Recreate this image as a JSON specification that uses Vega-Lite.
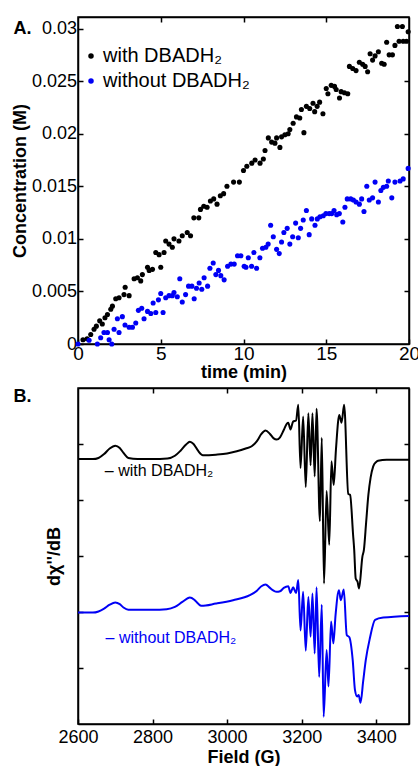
{
  "$schema": "https://vega.github.io/schema/vega-lite/v6.json",
  "padding": {"left": 10, "top": 15, "right": 0, "bottom": 0},
  "spacing": 44,
  "bounds": "flush",
  "background": "white",
  "resolve": {"scale": {"color": "independent"}},
  "config": {
    "font": "Liberation Sans",
    "view": {"stroke": "black", "strokeWidth": 1.5},
    "axis": {
      "grid": false, "domainColor": "black", "domainWidth": 1.5,
      "tickColor": "black", "tickWidth": 1.5, "tickSize": -5,
      "labelFont": "Liberation Sans", "labelColor": "black", "labelFontSize": 18,
      "labelFlush": false, "labelOverlap": false,
      "titleFont": "Liberation Sans", "titleColor": "black", "titleFontSize": 18, "titleFontWeight": "bold"
    }
  },
  "vconcat": [
    {
      "width": 331, "height": 327,
      "layer": [
        {
          "data": {"values": [
            {"t":0.3,"c":0.0004,"s":"with DBADH₂"},{"t":0.55,"c":0.0005,"s":"with DBADH₂"},{"t":0.77,"c":0.0009,"s":"with DBADH₂"},{"t":0.97,"c":0.0014,"s":"with DBADH₂"},{"t":1.11,"c":0.0017,"s":"with DBADH₂"},{"t":1.31,"c":0.0022,"s":"with DBADH₂"},{"t":1.47,"c":0.0019,"s":"with DBADH₂"},{"t":1.63,"c":0.0025,"s":"with DBADH₂"},{"t":1.78,"c":0.0028,"s":"with DBADH₂"},{"t":1.98,"c":0.0033,"s":"with DBADH₂"},
            {"t":2.08,"c":0.0036,"s":"with DBADH₂"},{"t":2.28,"c":0.0043,"s":"with DBADH₂"},{"t":2.48,"c":0.0044,"s":"with DBADH₂"},{"t":2.78,"c":0.0047,"s":"with DBADH₂"},{"t":2.85,"c":0.0054,"s":"with DBADH₂"},{"t":3.09,"c":0.0046,"s":"with DBADH₂"},{"t":3.39,"c":0.0062,"s":"with DBADH₂"},{"t":3.59,"c":0.0063,"s":"with DBADH₂"},{"t":3.79,"c":0.006,"s":"with DBADH₂"},{"t":3.89,"c":0.0066,"s":"with DBADH₂"},
            {"t":4.2,"c":0.0073,"s":"with DBADH₂"},{"t":4.3,"c":0.007,"s":"with DBADH₂"},{"t":4.5,"c":0.0071,"s":"with DBADH₂"},{"t":4.7,"c":0.0087,"s":"with DBADH₂"},{"t":4.9,"c":0.0085,"s":"with DBADH₂"},{"t":5.0,"c":0.0073,"s":"with DBADH₂"},{"t":5.2,"c":0.0087,"s":"with DBADH₂"},{"t":5.3,"c":0.0098,"s":"with DBADH₂"},{"t":5.5,"c":0.0095,"s":"with DBADH₂"},{"t":5.7,"c":0.0092,"s":"with DBADH₂"},
            {"t":5.8,"c":0.01,"s":"with DBADH₂"},{"t":6.1,"c":0.0098,"s":"with DBADH₂"},{"t":6.3,"c":0.0103,"s":"with DBADH₂"},{"t":6.6,"c":0.0106,"s":"with DBADH₂"},{"t":6.8,"c":0.0103,"s":"with DBADH₂"},{"t":7.0,"c":0.012,"s":"with DBADH₂"},{"t":7.3,"c":0.012,"s":"with DBADH₂"},{"t":7.4,"c":0.0128,"s":"with DBADH₂"},{"t":7.6,"c":0.0131,"s":"with DBADH₂"},{"t":7.8,"c":0.013,"s":"with DBADH₂"},
            {"t":8.0,"c":0.0136,"s":"with DBADH₂"},{"t":8.2,"c":0.0138,"s":"with DBADH₂"},{"t":8.4,"c":0.0133,"s":"with DBADH₂"},{"t":8.6,"c":0.0141,"s":"with DBADH₂"},{"t":8.8,"c":0.0143,"s":"with DBADH₂"},{"t":9.0,"c":0.015,"s":"with DBADH₂"},{"t":9.4,"c":0.0154,"s":"with DBADH₂"},{"t":9.75,"c":0.0154,"s":"with DBADH₂"},{"t":10.0,"c":0.0165,"s":"with DBADH₂"},{"t":10.2,"c":0.0169,"s":"with DBADH₂"},
            {"t":10.5,"c":0.0172,"s":"with DBADH₂"},{"t":10.7,"c":0.0175,"s":"with DBADH₂"},{"t":11.0,"c":0.0172,"s":"with DBADH₂"},{"t":11.2,"c":0.0176,"s":"with DBADH₂"},{"t":11.3,"c":0.0184,"s":"with DBADH₂"},{"t":11.5,"c":0.0196,"s":"with DBADH₂"},{"t":11.7,"c":0.0192,"s":"with DBADH₂"},{"t":11.9,"c":0.0191,"s":"with DBADH₂"},{"t":12.0,"c":0.0196,"s":"with DBADH₂"},{"t":12.2,"c":0.0187,"s":"with DBADH₂"},
            {"t":12.3,"c":0.0197,"s":"with DBADH₂"},{"t":12.5,"c":0.0199,"s":"with DBADH₂"},{"t":12.7,"c":0.02,"s":"with DBADH₂"},{"t":12.8,"c":0.0204,"s":"with DBADH₂"},{"t":13.0,"c":0.021,"s":"with DBADH₂"},{"t":13.2,"c":0.0216,"s":"with DBADH₂"},{"t":13.4,"c":0.0215,"s":"with DBADH₂"},{"t":13.5,"c":0.0223,"s":"with DBADH₂"},{"t":13.65,"c":0.0201,"s":"with DBADH₂"},{"t":13.8,"c":0.0226,"s":"with DBADH₂"},
            {"t":14.0,"c":0.0224,"s":"with DBADH₂"},{"t":14.2,"c":0.0229,"s":"with DBADH₂"},{"t":14.3,"c":0.0221,"s":"with DBADH₂"},{"t":14.45,"c":0.0226,"s":"with DBADH₂"},{"t":14.6,"c":0.023,"s":"with DBADH₂"},{"t":14.8,"c":0.0219,"s":"with DBADH₂"},{"t":15.0,"c":0.0243,"s":"with DBADH₂"},{"t":15.1,"c":0.0238,"s":"with DBADH₂"},{"t":15.3,"c":0.0246,"s":"with DBADH₂"},{"t":15.5,"c":0.0245,"s":"with DBADH₂"},
            {"t":15.6,"c":0.0242,"s":"with DBADH₂"},{"t":15.8,"c":0.0234,"s":"with DBADH₂"},{"t":15.9,"c":0.024,"s":"with DBADH₂"},{"t":16.1,"c":0.0239,"s":"with DBADH₂"},{"t":16.3,"c":0.0238,"s":"with DBADH₂"},{"t":16.4,"c":0.0264,"s":"with DBADH₂"},{"t":16.6,"c":0.0262,"s":"with DBADH₂"},{"t":16.8,"c":0.026,"s":"with DBADH₂"},{"t":17.0,"c":0.0268,"s":"with DBADH₂"},{"t":17.2,"c":0.0266,"s":"with DBADH₂"},
            {"t":17.35,"c":0.0264,"s":"with DBADH₂"},{"t":17.5,"c":0.0259,"s":"with DBADH₂"},{"t":17.65,"c":0.0276,"s":"with DBADH₂"},{"t":17.8,"c":0.027,"s":"with DBADH₂"},{"t":17.95,"c":0.0274,"s":"with DBADH₂"},{"t":18.15,"c":0.0278,"s":"with DBADH₂"},{"t":18.35,"c":0.0267,"s":"with DBADH₂"},{"t":18.5,"c":0.0266,"s":"with DBADH₂"},{"t":18.65,"c":0.0287,"s":"with DBADH₂"},{"t":18.8,"c":0.0275,"s":"with DBADH₂"},
            {"t":19.0,"c":0.0275,"s":"with DBADH₂"},{"t":19.15,"c":0.0284,"s":"with DBADH₂"},{"t":19.3,"c":0.0302,"s":"with DBADH₂"},{"t":19.4,"c":0.0288,"s":"with DBADH₂"},{"t":19.6,"c":0.0302,"s":"with DBADH₂"},{"t":19.65,"c":0.0288,"s":"with DBADH₂"},{"t":19.85,"c":0.0288,"s":"with DBADH₂"},{"t":19.95,"c":0.0297,"s":"with DBADH₂"},
            {"t":0.0,"c":0.0,"s":"without DBADH₂"},{"t":0.67,"c":0.00035,"s":"without DBADH₂"},{"t":1.17,"c":0.0,"s":"without DBADH₂"},{"t":1.37,"c":0.0006,"s":"without DBADH₂"},{"t":1.57,"c":0.0011,"s":"without DBADH₂"},{"t":1.78,"c":0.0011,"s":"without DBADH₂"},{"t":1.88,"c":0.0004,"s":"without DBADH₂"},{"t":2.04,"c":0.0,"s":"without DBADH₂"},{"t":2.18,"c":0.0014,"s":"without DBADH₂"},{"t":2.38,"c":0.0024,"s":"without DBADH₂"},
            {"t":2.48,"c":0.0011,"s":"without DBADH₂"},{"t":2.68,"c":0.0026,"s":"without DBADH₂"},{"t":2.84,"c":0.0018,"s":"without DBADH₂"},{"t":3.09,"c":0.0016,"s":"without DBADH₂"},{"t":3.29,"c":0.0016,"s":"without DBADH₂"},{"t":3.49,"c":0.002,"s":"without DBADH₂"},{"t":3.65,"c":0.0032,"s":"without DBADH₂"},{"t":3.85,"c":0.0034,"s":"without DBADH₂"},{"t":3.99,"c":0.0024,"s":"without DBADH₂"},{"t":4.2,"c":0.0031,"s":"without DBADH₂"},
            {"t":4.4,"c":0.0029,"s":"without DBADH₂"},{"t":4.54,"c":0.0039,"s":"without DBADH₂"},{"t":4.7,"c":0.003,"s":"without DBADH₂"},{"t":4.86,"c":0.0042,"s":"without DBADH₂"},{"t":5.0,"c":0.0048,"s":"without DBADH₂"},{"t":5.14,"c":0.003,"s":"without DBADH₂"},{"t":5.3,"c":0.0044,"s":"without DBADH₂"},{"t":5.5,"c":0.0046,"s":"without DBADH₂"},{"t":5.7,"c":0.0046,"s":"without DBADH₂"},{"t":5.8,"c":0.0049,"s":"without DBADH₂"},
            {"t":6.0,"c":0.0045,"s":"without DBADH₂"},{"t":6.15,"c":0.0062,"s":"without DBADH₂"},{"t":6.3,"c":0.004,"s":"without DBADH₂"},{"t":6.5,"c":0.0047,"s":"without DBADH₂"},{"t":6.68,"c":0.0055,"s":"without DBADH₂"},{"t":6.88,"c":0.0055,"s":"without DBADH₂"},{"t":7.02,"c":0.0043,"s":"without DBADH₂"},{"t":7.16,"c":0.0053,"s":"without DBADH₂"},{"t":7.32,"c":0.0058,"s":"without DBADH₂"},{"t":7.48,"c":0.0052,"s":"without DBADH₂"},
            {"t":7.62,"c":0.0063,"s":"without DBADH₂"},{"t":7.83,"c":0.0055,"s":"without DBADH₂"},{"t":7.97,"c":0.0072,"s":"without DBADH₂"},{"t":8.17,"c":0.0077,"s":"without DBADH₂"},{"t":8.33,"c":0.0066,"s":"without DBADH₂"},{"t":8.49,"c":0.007,"s":"without DBADH₂"},{"t":8.63,"c":0.0065,"s":"without DBADH₂"},{"t":8.83,"c":0.0061,"s":"without DBADH₂"},{"t":9.04,"c":0.0074,"s":"without DBADH₂"},{"t":9.24,"c":0.0076,"s":"without DBADH₂"},
            {"t":9.44,"c":0.0076,"s":"without DBADH₂"},{"t":9.64,"c":0.0084,"s":"without DBADH₂"},{"t":9.84,"c":0.0084,"s":"without DBADH₂"},{"t":10.04,"c":0.0074,"s":"without DBADH₂"},{"t":10.15,"c":0.0073,"s":"without DBADH₂"},{"t":10.29,"c":0.0082,"s":"without DBADH₂"},{"t":10.49,"c":0.0074,"s":"without DBADH₂"},{"t":10.63,"c":0.0087,"s":"without DBADH₂"},{"t":10.79,"c":0.0072,"s":"without DBADH₂"},{"t":10.99,"c":0.0082,"s":"without DBADH₂"},
            {"t":11.15,"c":0.0091,"s":"without DBADH₂"},{"t":11.35,"c":0.0092,"s":"without DBADH₂"},{"t":11.49,"c":0.0095,"s":"without DBADH₂"},{"t":11.64,"c":0.0113,"s":"without DBADH₂"},{"t":11.8,"c":0.0102,"s":"without DBADH₂"},{"t":12.0,"c":0.009,"s":"without DBADH₂"},{"t":12.16,"c":0.0086,"s":"without DBADH₂"},{"t":12.3,"c":0.0097,"s":"without DBADH₂"},{"t":12.44,"c":0.0106,"s":"without DBADH₂"},{"t":12.64,"c":0.011,"s":"without DBADH₂"},
            {"t":12.8,"c":0.0095,"s":"without DBADH₂"},{"t":12.97,"c":0.0102,"s":"without DBADH₂"},{"t":13.15,"c":0.0115,"s":"without DBADH₂"},{"t":13.31,"c":0.0101,"s":"without DBADH₂"},{"t":13.45,"c":0.011,"s":"without DBADH₂"},{"t":13.61,"c":0.0118,"s":"without DBADH₂"},{"t":13.8,"c":0.0127,"s":"without DBADH₂"},{"t":13.97,"c":0.0104,"s":"without DBADH₂"},{"t":14.12,"c":0.0119,"s":"without DBADH₂"},{"t":14.32,"c":0.0113,"s":"without DBADH₂"},
            {"t":14.46,"c":0.0119,"s":"without DBADH₂"},{"t":14.62,"c":0.0121,"s":"without DBADH₂"},{"t":14.82,"c":0.0122,"s":"without DBADH₂"},{"t":14.98,"c":0.0124,"s":"without DBADH₂"},{"t":15.18,"c":0.0124,"s":"without DBADH₂"},{"t":15.33,"c":0.0124,"s":"without DBADH₂"},{"t":15.47,"c":0.0127,"s":"without DBADH₂"},{"t":15.63,"c":0.0123,"s":"without DBADH₂"},{"t":15.79,"c":0.0124,"s":"without DBADH₂"},{"t":16.0,"c":0.0116,"s":"without DBADH₂"},
            {"t":16.13,"c":0.013,"s":"without DBADH₂"},{"t":16.27,"c":0.0138,"s":"without DBADH₂"},{"t":16.48,"c":0.0138,"s":"without DBADH₂"},{"t":16.64,"c":0.0137,"s":"without DBADH₂"},{"t":16.8,"c":0.0135,"s":"without DBADH₂"},{"t":17.0,"c":0.0133,"s":"without DBADH₂"},{"t":17.14,"c":0.0138,"s":"without DBADH₂"},{"t":17.28,"c":0.0126,"s":"without DBADH₂"},{"t":17.45,"c":0.015,"s":"without DBADH₂"},{"t":17.6,"c":0.0137,"s":"without DBADH₂"},
            {"t":17.8,"c":0.0139,"s":"without DBADH₂"},{"t":17.95,"c":0.0154,"s":"without DBADH₂"},{"t":18.15,"c":0.0135,"s":"without DBADH₂"},{"t":18.3,"c":0.0146,"s":"without DBADH₂"},{"t":18.45,"c":0.0149,"s":"without DBADH₂"},{"t":18.65,"c":0.015,"s":"without DBADH₂"},{"t":18.75,"c":0.0155,"s":"without DBADH₂"},{"t":18.96,"c":0.0139,"s":"without DBADH₂"},{"t":19.15,"c":0.0154,"s":"without DBADH₂"},{"t":19.46,"c":0.0155,"s":"without DBADH₂"},
            {"t":19.65,"c":0.0157,"s":"without DBADH₂"},{"t":19.95,"c":0.0167,"s":"without DBADH₂"}
          ]},
          "mark": {"type": "point", "filled": true, "size": 26, "opacity": 1, "strokeWidth": 0},
          "encoding": {
            "x": {"field": "t", "type": "quantitative", "scale": {"domain": [0, 20], "nice": false, "zero": false},
                  "axis": {"title": "time (min)", "values": [0, 5, 10, 15, 20], "labelFontSize": 19, "labelPadding": 5, "titlePadding": 0}},
            "y": {"field": "c", "type": "quantitative", "scale": {"domain": [0, 0.0311], "nice": false},
                  "axis": {"title": "Concentration (M)", "values": [0, 0.005, 0.01, 0.015, 0.02, 0.025, 0.03], "format": "~g", "labelFontSize": 18, "labelPadding": 6.5, "titlePadding": 2}},
            "color": {"field": "s", "type": "nominal",
                      "scale": {"domain": ["with DBADH₂", "without DBADH₂"], "range": ["#000000", "#0000f5"]},
                      "legend": {"title": null, "orient": "none", "legendX": 3, "legendY": 29, "padding": 0,
                                 "symbolType": "circle", "symbolSize": 30, "symbolStrokeWidth": 0,
                                 "labelFont": "Liberation Sans", "labelFontSize": 20, "labelOffset": 2, "rowPadding": 5,
                                 "encode": {"labels": {"update": {"fill": {"signal": "indexof(datum.value, 'without') >= 0 ? '#0000f5' : '#000000'"}}}}}}
          }
        },
        {
          "data": {"values": [{"label": "A."}]},
          "mark": {"type": "text", "align": "left", "baseline": "alphabetic", "fontSize": 18, "fontWeight": "bold", "font": "Liberation Sans", "color": "#000000"},
          "encoding": {
            "x": {"datum": -3.89, "type": "quantitative", "axis": null},
            "y": {"datum": 0.0295, "type": "quantitative", "axis": null},
            "text": {"field": "label"}
          }
        },
        {
          "data": {"values": [{}]},
          "mark": {"type": "point", "opacity": 0},
          "encoding": {
            "x": {"datum": 0, "type": "quantitative", "axis": {"orient": "top", "labels": false, "title": null, "values": [5, 10, 15]}},
            "y": {"datum": 0, "type": "quantitative", "axis": {"orient": "right", "labels": false, "title": null, "values": [0.005, 0.01, 0.015, 0.02, 0.025]}}
          }
        }
      ],
      "resolve": {"axis": {"x": "independent", "y": "independent"}}
    },
    {
      "width": 331, "height": 336,
      "layer": [
        {
          "data": {"values": [
            {"f":2600,"v":4.73,"s":"with"},{"f":2640,"v":4.73,"s":"with"},{"f":2655,"v":4.75,"s":"with"},{"f":2670,"v":4.82,"s":"with"},{"f":2685,"v":4.92,"s":"with"},{"f":2700,"v":4.97,"s":"with"},{"f":2712,"v":4.93,"s":"with"},{"f":2722,"v":4.84,"s":"with"},{"f":2735,"v":4.75,"s":"with"},{"f":2760,"v":4.73,"s":"with"},
            {"f":2800,"v":4.73,"s":"with"},{"f":2840,"v":4.74,"s":"with"},{"f":2860,"v":4.79,"s":"with"},{"f":2875,"v":4.88,"s":"with"},{"f":2890,"v":4.99,"s":"with"},{"f":2900,"v":5.04,"s":"with"},{"f":2910,"v":5.0,"s":"with"},{"f":2922,"v":4.88,"s":"with"},{"f":2935,"v":4.8,"s":"with"},{"f":2970,"v":4.81,"s":"with"},
            {"f":3000,"v":4.83,"s":"with"},{"f":3026,"v":4.87,"s":"with"},{"f":3050,"v":4.92,"s":"with"},{"f":3066,"v":4.96,"s":"with"},{"f":3080,"v":5.05,"s":"with"},{"f":3092,"v":5.18,"s":"with"},{"f":3103,"v":5.24,"s":"with"},{"f":3115,"v":5.18,"s":"with"},{"f":3125,"v":5.1,"s":"with"},{"f":3133,"v":5.08,"s":"with"},
            {"f":3142,"v":5.12,"s":"with"},{"f":3152,"v":5.25,"s":"with"},{"f":3160,"v":5.36,"s":"with"},{"f":3164,"v":5.38,"s":"with"},{"f":3170,"v":5.26,"s":"with"},{"f":3177,"v":5.4,"s":"with"},{"f":3185,"v":5.42,"s":"with"},{"f":3191,"v":5.7,"s":"with"},{"f":3197,"v":4.57,"s":"with"},{"f":3204,"v":5.49,"s":"with"},
            {"f":3211,"v":4.23,"s":"with"},{"f":3218,"v":5.55,"s":"with"},{"f":3224,"v":4.62,"s":"with"},{"f":3229,"v":5.55,"s":"with"},{"f":3235,"v":4.42,"s":"with"},{"f":3240,"v":5.63,"s":"with"},{"f":3249,"v":3.62,"s":"with"},{"f":3254,"v":5.11,"s":"with"},{"f":3260,"v":2.51,"s":"with"},{"f":3267,"v":4.16,"s":"with"},
            {"f":3274,"v":3.2,"s":"with"},{"f":3280,"v":4.69,"s":"with"},{"f":3286,"v":4.27,"s":"with"},{"f":3292,"v":4.9,"s":"with"},{"f":3301,"v":5.52,"s":"with"},{"f":3307,"v":5.38,"s":"with"},{"f":3314,"v":5.7,"s":"with"},{"f":3325,"v":4.11,"s":"with"},{"f":3330,"v":4.09,"s":"with"},{"f":3338,"v":3.38,"s":"with"},
            {"f":3341,"v":3.11,"s":"with"},{"f":3345,"v":2.6,"s":"with"},{"f":3350,"v":2.54,"s":"with"},{"f":3354,"v":2.42,"s":"with"},{"f":3363,"v":2.99,"s":"with"},{"f":3367,"v":3.11,"s":"with"},{"f":3373,"v":3.6,"s":"with"},{"f":3379,"v":4.09,"s":"with"},{"f":3385,"v":4.4,"s":"with"},{"f":3392,"v":4.6,"s":"with"},
            {"f":3400,"v":4.68,"s":"with"},{"f":3405,"v":4.7,"s":"with"},{"f":3428,"v":4.72,"s":"with"},{"f":3488,"v":4.72,"s":"with"},
            {"f":2600,"v":1.99,"s":"without"},{"f":2640,"v":1.99,"s":"without"},{"f":2655,"v":2.01,"s":"without"},{"f":2670,"v":2.06,"s":"without"},{"f":2685,"v":2.13,"s":"without"},{"f":2700,"v":2.17,"s":"without"},{"f":2712,"v":2.14,"s":"without"},{"f":2722,"v":2.08,"s":"without"},{"f":2735,"v":2.04,"s":"without"},{"f":2800,"v":2.04,"s":"without"},
            {"f":2838,"v":2.05,"s":"without"},{"f":2860,"v":2.09,"s":"without"},{"f":2880,"v":2.18,"s":"without"},{"f":2900,"v":2.26,"s":"without"},{"f":2912,"v":2.22,"s":"without"},{"f":2922,"v":2.15,"s":"without"},{"f":2931,"v":2.11,"s":"without"},{"f":2970,"v":2.15,"s":"without"},{"f":3016,"v":2.21,"s":"without"},{"f":3061,"v":2.3,"s":"without"},
            {"f":3080,"v":2.38,"s":"without"},{"f":3092,"v":2.46,"s":"without"},{"f":3103,"v":2.49,"s":"without"},{"f":3115,"v":2.43,"s":"without"},{"f":3125,"v":2.38,"s":"without"},{"f":3133,"v":2.36,"s":"without"},{"f":3142,"v":2.37,"s":"without"},{"f":3152,"v":2.43,"s":"without"},{"f":3164,"v":2.46,"s":"without"},{"f":3170,"v":2.34,"s":"without"},
            {"f":3177,"v":2.44,"s":"without"},{"f":3185,"v":2.34,"s":"without"},{"f":3191,"v":2.57,"s":"without"},{"f":3197,"v":1.67,"s":"without"},{"f":3204,"v":2.36,"s":"without"},{"f":3211,"v":1.31,"s":"without"},{"f":3218,"v":2.27,"s":"without"},{"f":3224,"v":1.56,"s":"without"},{"f":3229,"v":2.33,"s":"without"},{"f":3235,"v":1.26,"s":"without"},
            {"f":3240,"v":2.44,"s":"without"},{"f":3247,"v":0.84,"s":"without"},{"f":3254,"v":2.13,"s":"without"},{"f":3259,"v":0.13,"s":"without"},{"f":3267,"v":1.32,"s":"without"},{"f":3272,"v":0.67,"s":"without"},{"f":3279,"v":1.83,"s":"without"},{"f":3285,"v":1.44,"s":"without"},{"f":3291,"v":1.95,"s":"without"},{"f":3300,"v":2.39,"s":"without"},
            {"f":3305,"v":2.21,"s":"without"},{"f":3313,"v":2.4,"s":"without"},{"f":3321,"v":1.59,"s":"without"},{"f":3328,"v":1.55,"s":"without"},{"f":3337,"v":1.14,"s":"without"},{"f":3343,"v":0.61,"s":"without"},{"f":3349,"v":0.49,"s":"without"},{"f":3353,"v":0.52,"s":"without"},{"f":3358,"v":0.38,"s":"without"},{"f":3365,"v":0.76,"s":"without"},
            {"f":3372,"v":1.14,"s":"without"},{"f":3383,"v":1.53,"s":"without"},{"f":3397,"v":1.86,"s":"without"},{"f":3419,"v":1.9,"s":"without"},{"f":3488,"v":1.93,"s":"without"}
          ]},
          "mark": {"type": "line", "strokeWidth": 2, "interpolate": "monotone"},
          "encoding": {
            "x": {"field": "f", "type": "quantitative", "scale": {"domain": [2600, 3488], "nice": false, "zero": false},
                  "axis": {"title": "Field (G)", "values": [2600, 2800, 3000, 3200, 3400], "format": "d", "labelFontSize": 18, "labelPadding": 9, "titlePadding": 2}},
            "y": {"field": "v", "type": "quantitative", "scale": {"domain": [0, 6], "nice": false},
                  "axis": {"title": "dχ''/dB", "values": [1, 2, 3, 4, 5], "labels": false, "titlePadding": 14}},
            "color": {"field": "s", "type": "nominal", "scale": {"domain": ["with", "without"], "range": ["#000000", "#0000f5"]}, "legend": null}
          }
        },
        {
          "data": {"values": [{"label": "B."}]},
          "mark": {"type": "text", "align": "left", "baseline": "alphabetic", "fontSize": 18, "fontWeight": "bold", "font": "Liberation Sans", "color": "#000000"},
          "encoding": {
            "x": {"datum": 2427, "type": "quantitative", "axis": null},
            "y": {"datum": 5.75, "type": "quantitative", "axis": null},
            "text": {"field": "label"}
          }
        },
        {
          "data": {"values": [{"label": "– with DBADH₂"}]},
          "mark": {"type": "text", "align": "left", "baseline": "alphabetic", "fontSize": 16, "font": "Liberation Sans", "color": "#000000"},
          "encoding": {
            "x": {"datum": 2672, "type": "quantitative", "axis": null},
            "y": {"datum": 4.43, "type": "quantitative", "axis": null},
            "text": {"field": "label"}
          }
        },
        {
          "data": {"values": [{"label": "– without DBADH₂"}]},
          "mark": {"type": "text", "align": "left", "baseline": "alphabetic", "fontSize": 16, "font": "Liberation Sans", "color": "#0000f5"},
          "encoding": {
            "x": {"datum": 2674, "type": "quantitative", "axis": null},
            "y": {"datum": 1.45, "type": "quantitative", "axis": null},
            "text": {"field": "label"}
          }
        },
        {
          "data": {"values": [{}]},
          "mark": {"type": "point", "opacity": 0},
          "encoding": {
            "x": {"datum": 2600, "type": "quantitative", "axis": {"orient": "top", "labels": false, "title": null, "values": [2800, 3000, 3200, 3400]}},
            "y": {"datum": 1, "type": "quantitative", "axis": {"orient": "right", "labels": false, "title": null, "values": [1, 2, 3, 4, 5]}}
          }
        }
      ],
      "resolve": {"axis": {"x": "independent", "y": "independent"}}
    }
  ]
}
